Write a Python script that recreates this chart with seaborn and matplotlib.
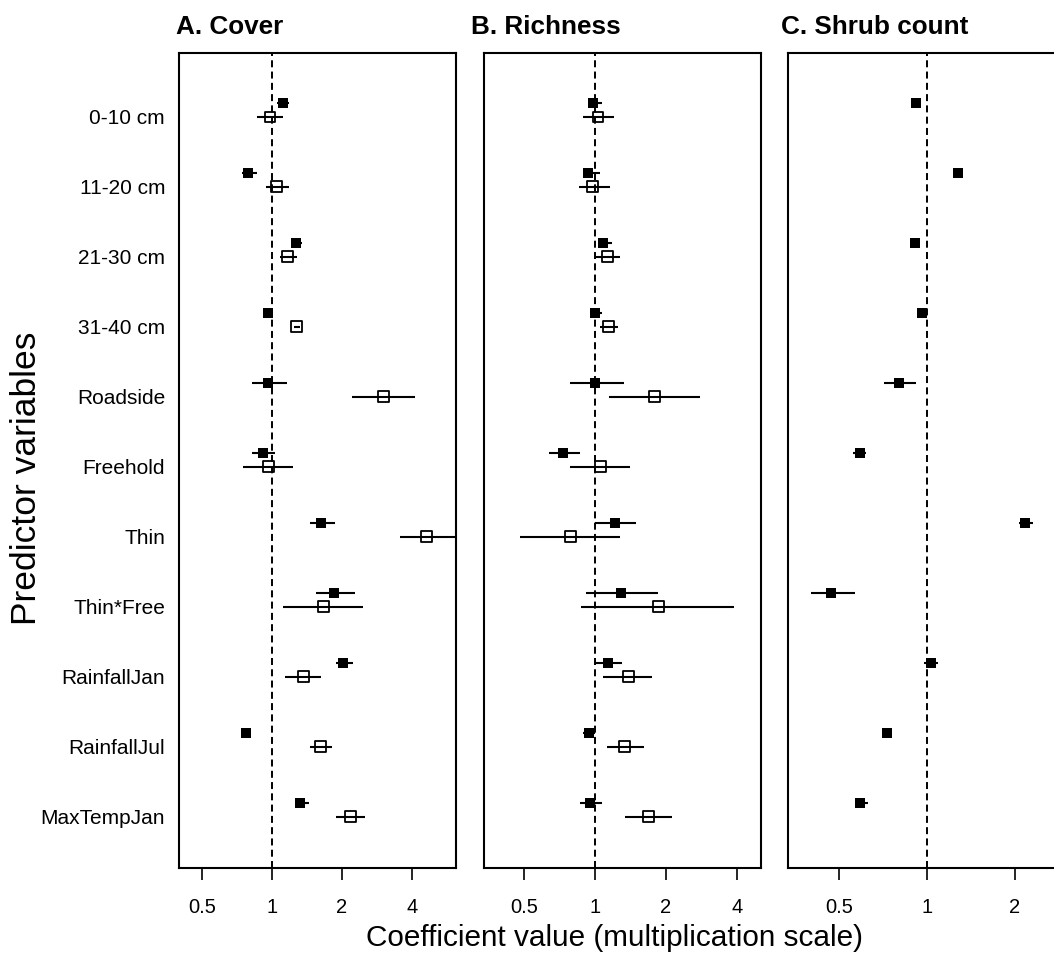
import numpy as np
import pandas as pd
import matplotlib
matplotlib.use("Agg")
import matplotlib.pyplot as plt
import seaborn as sns

# predictor names (top to bottom)
predictors = ["0-10 cm", "11-20 cm", "21-30 cm", "31-40 cm", "Roadside", "Freehold",
              "Thin", "Thin*Free", "RainfallJan", "RainfallJul", "MaxTempJan"]

# A. Cover - filled squares
cover_f_est = [1.11, 0.79, 1.27, 0.96, 0.96, 0.91, 1.62, 1.85, 2.02, 0.77, 1.32]
cover_f_lo = [1.05, 0.74, 1.22, 0.92, 0.82, 0.82, 1.45, 1.54, 1.88, 0.74, 1.27]
cover_f_hi = [1.18, 0.865, 1.35, 1.00, 1.16, 1.03, 1.87, 2.27, 2.22, 0.80, 1.44]
# A. Cover - open squares
cover_o_est = [0.98, 1.05, 1.17, 1.28, 3.01, 0.97, 4.64, 1.66, 1.36, 1.62, 2.17]
cover_o_lo = [0.865, 0.94, 1.08, 1.24, 2.20, 0.75, 3.54, 1.12, 1.14, 1.45, 1.88]
cover_o_hi = [1.11, 1.18, 1.28, 1.32, 4.12, 1.23, 7.00, 2.46, 1.62, 1.82, 2.50]

# B. Richness - filled squares
rich_f_est = [0.98, 0.93, 1.08, 1.00, 1.00, 0.73, 1.22, 1.29, 1.13, 0.94, 0.95]
rich_f_lo = [0.94, 0.90, 1.04, 0.97, 0.78, 0.64, 1.00, 0.92, 1.00, 0.89, 0.86]
rich_f_hi = [1.07, 1.05, 1.18, 1.07, 1.33, 0.86, 1.49, 1.85, 1.30, 1.00, 1.07]
# B. Richness - open squares
rich_o_est = [1.03, 0.98, 1.13, 1.14, 1.79, 1.06, 0.79, 1.86, 1.39, 1.34, 1.68]
rich_o_lo = [0.89, 0.855, 1.00, 1.05, 1.15, 0.78, 0.48, 0.87, 1.08, 1.12, 1.34]
rich_o_hi = [1.20, 1.16, 1.28, 1.25, 2.79, 1.41, 1.28, 3.90, 1.75, 1.61, 2.13]

# C. Shrub count - filled squares only
shrub_est = [0.92, 1.28, 0.91, 0.96, 0.80, 0.59, 2.16, 0.47, 1.03, 0.73, 0.59]
shrub_lo = [0.92, 1.28, 0.91, 0.95, 0.715, 0.56, 2.06, 0.40, 0.98, 0.73, 0.57]
shrub_hi = [0.92, 1.28, 0.91, 1.00, 0.915, 0.62, 2.30, 0.565, 1.09, 0.73, 0.63]

rows = []
for panel, kind, est, lo, hi in [
    ("A", "filled", cover_f_est, cover_f_lo, cover_f_hi),
    ("A", "open", cover_o_est, cover_o_lo, cover_o_hi),
    ("B", "filled", rich_f_est, rich_f_lo, rich_f_hi),
    ("B", "open", rich_o_est, rich_o_lo, rich_o_hi),
    ("C", "filled", shrub_est, shrub_lo, shrub_hi),
]:
    for i, p in enumerate(predictors):
        rows.append({"panel": panel, "kind": kind, "predictor": p, "row": i,
                     "est": est[i], "lo": lo[i], "hi": hi[i]})
df = pd.DataFrame(rows)
# filled squares sit a little above the open ones
df["y"] = df["row"] - np.where(df["kind"] == "filled", 0.2, 0.0)

sns.set_theme(style="ticks")
plt.rcParams["font.family"] = ["Liberation Sans", "DejaVu Sans"]
plt.rcParams["text.color"] = "black"
plt.rcParams["axes.labelcolor"] = "black"

fig = plt.figure(figsize=(10.54, 9.58), dpi=100)
W, H = 1054, 958
bottom = (H - 868) / H
height = 815 / H
width = 277 / W
panels = {
    "A": dict(left=179, xlim=(2 ** -1.33, 2 ** 2.63), ticks=[0.5, 1, 2, 4], title="A. Cover", tx=176),
    "B": dict(left=484, xlim=(2 ** -1.563, 2 ** 2.338), ticks=[0.5, 1, 2, 4], title="B. Richness", tx=471),
    "C": dict(left=788, xlim=(2 ** -1.58, 2 ** 1.568), ticks=[0.5, 1, 2], title="C. Shrub count", tx=781),
}

for key, cfg in panels.items():
    ax = fig.add_axes([cfg["left"] / W, bottom, width, height])
    ax.set_xscale("log", base=2)
    ax.axvline(1, color="black", lw=1.4, ls=(0, (3.6, 2.2)), zorder=1)
    sub = df[df["panel"] == key]
    ax.hlines(sub["y"], sub["lo"], sub["hi"], color="black", lw=1.5, zorder=2)
    fil = sub[sub["kind"] == "filled"]
    sns.scatterplot(data=fil, x="est", y="y", marker="s", s=60, color="black",
                    linewidth=0, zorder=3, ax=ax, legend=False)
    opn = sub[sub["kind"] == "open"]
    if len(opn):
        sns.scatterplot(data=opn, x="est", y="y", marker="s", s=62, facecolor="none",
                        edgecolor="black", linewidth=1.3, zorder=3, ax=ax, legend=False)
    ax.set_xlim(cfg["xlim"])
    ax.set_ylim(10.73, -0.914)
    ax.set_xticks(cfg["ticks"])
    ax.set_xticklabels([("%g" % t) for t in cfg["ticks"]])
    ax.xaxis.set_minor_locator(matplotlib.ticker.NullLocator())
    ax.tick_params(axis="x", direction="out", length=8.6, width=1.2, pad=13,
                   labelsize=14.5, colors="black")
    ax.set_xlabel("")
    ax.set_ylabel("")
    if key == "A":
        ax.set_yticks(range(len(predictors)))
        ax.set_yticklabels(predictors)
        ax.tick_params(axis="y", length=0, pad=10, labelsize=15, colors="black")
    else:
        ax.set_yticks([])
    for s in ax.spines.values():
        s.set_visible(True)
        s.set_linewidth(1.5)
        s.set_color("black")
    fig.text(cfg["tx"] / W, 1 - 27 / H, cfg["title"], fontsize=18.8,
             fontweight="bold", ha="left", va="center", color="black")

fig.text(615 / W, 1 - 938 / H, "Coefficient value (multiplication scale)",
         fontsize=21.4, ha="center", va="center", color="black")
fig.text(27 / W, 1 - 478 / H, "Predictor variables", fontsize=25.5,
         rotation=90, ha="center", va="center", color="black")

fig.savefig("out.png", dpi=100, facecolor="white")
